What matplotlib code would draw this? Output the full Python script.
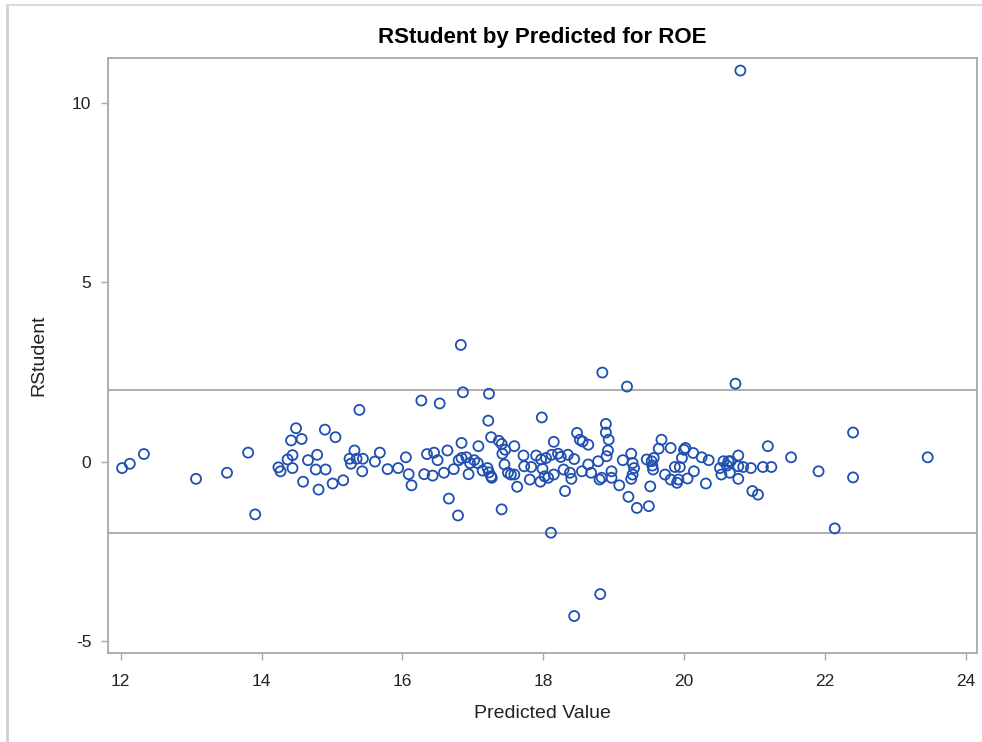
import matplotlib.pyplot as plt
from matplotlib.lines import Line2D

plt.rcParams['font.family'] = ['Liberation Sans', 'DejaVu Sans']
plt.rcParams['axes.unicode_minus'] = False

# predicted value / rstudent pairs
predicted = [
    12.02, 12.13, 12.33, 13.07, 13.51, 13.81, 13.91, 14.24, 14.27, 14.37,
    14.44, 14.44, 14.42, 14.49, 14.57, 14.59, 14.66, 14.77, 14.79, 14.81,
    16.86, 17.23, 16.27, 16.53, 15.39, 17.22, 14.90, 15.05, 14.91, 15.01,
    15.16, 15.25, 15.27, 15.32, 15.35, 15.44, 15.43, 15.61, 15.68, 15.79,
    15.94, 16.05, 16.09, 16.13, 16.31, 16.35, 16.43, 16.45, 16.50, 16.59,
    16.64, 16.66, 16.73, 16.79, 16.80, 16.84, 16.84, 16.91, 16.94, 16.96,
    17.02, 17.08, 17.07, 17.14, 17.21, 17.23, 17.26, 17.27, 17.26, 17.37,
    17.41, 17.42, 17.46, 17.45, 17.50, 17.54, 17.59, 17.59, 17.63, 17.41,
    17.72, 17.73, 17.81, 19.19, 20.73, 17.98, 18.11, 17.83, 17.90, 17.96,
    17.97, 17.99, 18.02, 18.04, 18.07, 18.12, 18.15, 18.15, 18.21, 18.25,
    18.29, 18.31, 18.35, 18.38, 18.40, 18.44, 18.48, 18.52, 18.56, 18.55,
    18.64, 18.64, 18.68, 18.78, 18.80, 18.83, 18.89, 18.89, 18.93, 18.92,
    18.90, 18.97, 18.97, 19.08, 19.13, 19.21, 19.25, 19.27, 19.29, 19.27,
    19.25, 19.33, 19.47, 19.52, 19.50, 19.54, 19.55, 19.56, 19.57, 19.64,
    19.68, 19.73, 19.81, 19.81, 19.87, 19.90, 19.92, 19.94, 19.97, 20.00,
    20.02, 20.05, 20.13, 20.14, 20.25, 20.31, 20.35, 20.51, 20.53, 20.56,
    20.61, 20.63, 20.65, 20.66, 20.77, 20.77, 20.77, 20.84, 20.95, 20.97,
    21.05, 21.12, 21.24, 21.19, 21.52, 21.91, 22.14, 22.40, 22.40, 23.46,
    20.80, 16.83, 18.84, 18.81, 18.44,
]
rstudent = [
    -0.18, -0.06, 0.21, -0.48, -0.31, 0.25, -1.47, -0.16, -0.27, 0.06,
    0.18, -0.18, 0.59, 0.93, 0.63, -0.56, 0.04, -0.22, 0.19, -0.78,
    1.93, 1.89, 1.70, 1.62, 1.44, 1.14, 0.89, 0.68, -0.22, -0.61,
    -0.52, 0.08, -0.06, 0.31, 0.08, 0.08, -0.27, 0.00, 0.25, -0.21,
    -0.18, 0.12, -0.35, -0.66, -0.35, 0.21, -0.39, 0.25, 0.04, -0.31,
    0.31, -1.03, -0.21, -1.50, 0.04, 0.52, 0.10, 0.12, -0.35, -0.04,
    0.04, 0.43, -0.04, -0.25, -0.18, -0.30, -0.41, -0.45, 0.68, 0.58,
    0.49, 0.22, 0.33, -0.08, -0.31, -0.36, -0.36, 0.43, -0.70, -1.33,
    0.17, -0.13, -0.50, 2.09, 2.17, 1.23, -1.98, -0.15, 0.17, -0.56,
    0.06, -0.20, -0.41, 0.10, -0.45, 0.19, 0.55, -0.36, 0.22, 0.13,
    -0.22, -0.82, 0.19, -0.31, -0.48, 0.07, 0.80, 0.61, 0.56, -0.27,
    0.47, -0.08, -0.31, 0.01, -0.50, -0.45, 1.05, 0.81, 0.61, 0.31,
    0.15, -0.27, -0.45, -0.66, 0.04, -0.98, 0.22, -0.04, -0.18, -0.36,
    -0.48, -1.29, 0.06, -0.69, -1.24, 0.01, -0.11, -0.22, 0.10, 0.36,
    0.61, -0.36, 0.38, -0.50, -0.15, -0.59, -0.50, -0.15, 0.10, 0.33,
    0.38, -0.47, 0.24, -0.27, 0.12, -0.61, 0.04, -0.18, -0.36, 0.01,
    -0.11, 0.01, -0.31, 0.01, 0.17, -0.13, -0.48, -0.15, -0.18, -0.82,
    -0.92, -0.15, -0.15, 0.43, 0.12, -0.27, -1.86, 0.81, -0.44, 0.12,
    10.89, 3.25, 2.48, -3.69, -4.30,
]
ref_lines = [2, -2]
x_ticks = [12, 14, 16, 18, 20, 22, 24]
y_ticks = [-5, 0, 5, 10]

fig = plt.figure(figsize=(9.82, 7.42), dpi=100)
ax = fig.add_axes([108 / 982, 1 - 653 / 742, 869 / 982, 595 / 742])

frame_gray = '#a8a8a8'
for y in ref_lines:
    ax.axhline(y, color=frame_gray, lw=1.3, zorder=1)

ax.scatter(predicted, rstudent, s=52, facecolors='none', edgecolors='#1f4fb0',
           linewidths=1.3, zorder=3)

ax.set_xlim(11.82, 24.16)
ax.set_ylim(-5.33, 11.24)
ax.set_xticks(x_ticks)
ax.set_yticks(y_ticks)
ax.tick_params(length=5, width=1, color=frame_gray, labelsize=12.5,
               labelcolor='#222222')
ax.tick_params(axis='x', pad=10)
ax.tick_params(axis='y', pad=7)
for s in ax.spines.values():
    s.set_color(frame_gray)
    s.set_linewidth(1.3)

ax.set_xlabel('Predicted Value', fontsize=14, color='#222222', labelpad=12)
ax.set_ylabel('RStudent', fontsize=14, color='#222222', labelpad=18)
ax.set_title('RStudent by Predicted for ROE', fontsize=16, fontweight='bold',
             pad=11)

# outer frame of the output page
fig.add_artist(Line2D([7 / 982, 7 / 982], [0, 1 - 5 / 742],
                      transform=fig.transFigure, color='#d0d0d0', lw=2))
fig.add_artist(Line2D([7 / 982, 1], [1 - 5 / 742, 1 - 5 / 742],
                      transform=fig.transFigure, color='#dcdcdc', lw=1.5))

fig.savefig('out.png', dpi=100)
